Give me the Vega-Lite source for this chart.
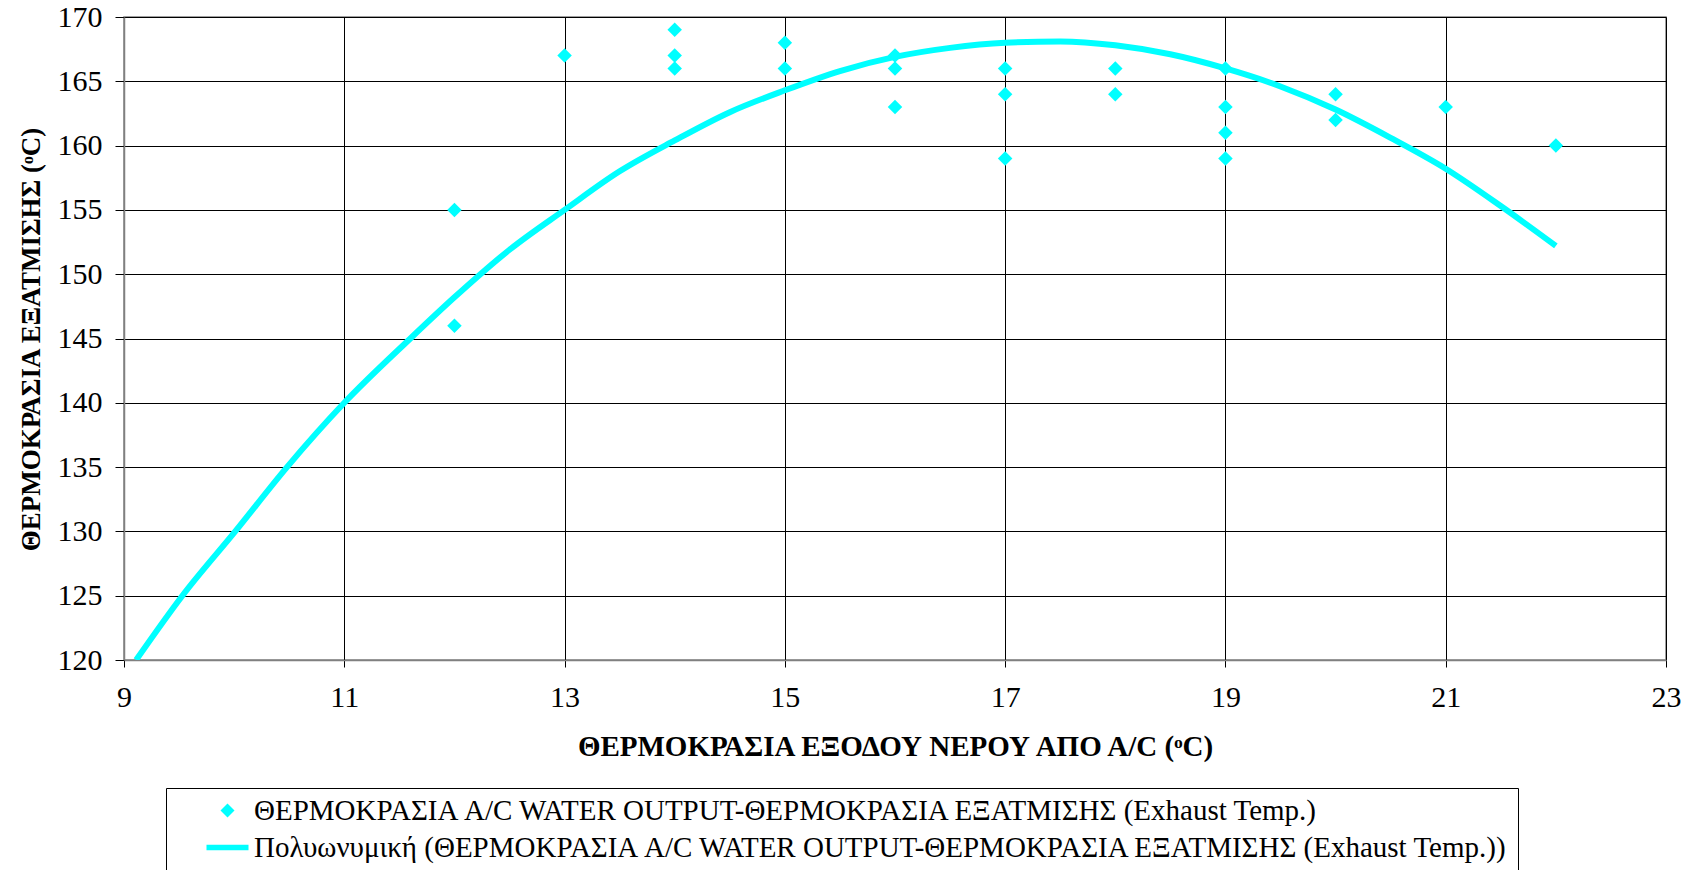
{
  "$schema": "https://vega.github.io/schema/vega-lite/v6.json",
  "autosize": {"type": "none"},
  "padding": {"left": 124, "top": 17, "right": 24, "bottom": 210},
  "width": 1542,
  "height": 643,
  "background": "white",
  "config": {
    "font": "Liberation Serif",
    "view": {"stroke": "#808080", "strokeWidth": 1.5},
    "axis": {
      "labelFont": "Liberation Serif",
      "labelFontSize": 30,
      "labelColor": "#000",
      "labelFlush": false,
      "titleFont": "Liberation Serif",
      "titleFontWeight": "bold",
      "titleColor": "#000",
      "grid": true,
      "gridColor": "#000",
      "gridOpacity": 1,
      "gridWidth": 1,
      "domainColor": "#808080",
      "domainWidth": 1.5,
      "tickColor": "#000"
    },
    "legend": {
      "labelFont": "Liberation Serif",
      "labelFontSize": 29,
      "labelColor": "#000",
      "labelLimit": 2000
    }
  },
  "datasets": {
    "points": [
      {"x": 12, "y": 155}, {"x": 12, "y": 146},
      {"x": 13, "y": 167},
      {"x": 14, "y": 169}, {"x": 14, "y": 167}, {"x": 14, "y": 166},
      {"x": 15, "y": 168}, {"x": 15, "y": 166},
      {"x": 16, "y": 167}, {"x": 16, "y": 166}, {"x": 16, "y": 163},
      {"x": 17, "y": 166}, {"x": 17, "y": 164}, {"x": 17, "y": 159},
      {"x": 18, "y": 166}, {"x": 18, "y": 164},
      {"x": 19, "y": 166}, {"x": 19, "y": 163}, {"x": 19, "y": 161}, {"x": 19, "y": 159},
      {"x": 20, "y": 164}, {"x": 20, "y": 162},
      {"x": 21, "y": 163},
      {"x": 22, "y": 160}
    ],
    "trend": [
      {"x": 9.11, "y": 120}, {"x": 9.53, "y": 125}, {"x": 10.01, "y": 130},
      {"x": 10.48, "y": 135}, {"x": 11.0, "y": 140}, {"x": 11.6, "y": 145},
      {"x": 12.0, "y": 148.2}, {"x": 12.5, "y": 151.9}, {"x": 13.0, "y": 155},
      {"x": 13.5, "y": 158}, {"x": 14.0, "y": 160.4}, {"x": 14.5, "y": 162.6},
      {"x": 15.0, "y": 164.3}, {"x": 15.5, "y": 165.8}, {"x": 16.0, "y": 166.9},
      {"x": 16.5, "y": 167.6}, {"x": 17.0, "y": 168.0}, {"x": 17.5, "y": 168.1},
      {"x": 18.0, "y": 167.8}, {"x": 18.5, "y": 167.1}, {"x": 19.0, "y": 166.0},
      {"x": 19.5, "y": 164.6}, {"x": 20.0, "y": 162.8}, {"x": 20.5, "y": 160.6},
      {"x": 21.0, "y": 158.2}, {"x": 21.5, "y": 155.3}, {"x": 22.0, "y": 152.2}
    ]
  },
  "encoding": {
    "x": {
      "field": "x", "type": "quantitative",
      "scale": {"domain": [9, 23], "nice": false, "zero": false},
      "axis": {
        "values": [9, 11, 13, 15, 17, 19, 21, 23],
        "tickSize": 7,
        "labelPadding": 15,
        "title": "ΘΕΡΜΟΚΡΑΣΙΑ ΕΞΟΔΟΥ ΝΕΡΟΥ ΑΠΟ Α/C (ᵒC)",
        "titleFontSize": 29,
        "titleX": 771,
        "titleY": 86,
        "titleBaseline": "middle",
        "titleAlign": "center"
      }
    },
    "y": {
      "field": "y", "type": "quantitative",
      "scale": {"domain": [120, 170], "nice": false, "zero": false},
      "axis": {
        "values": [120, 125, 130, 135, 140, 145, 150, 155, 160, 165, 170],
        "tickSize": 9,
        "labelPadding": 13,
        "title": "ΘΕΡΜΟΚΡΑΣΙΑ ΕΞΑΤΜΙΣΗΣ (ᵒC)",
        "titleFontSize": 27,
        "titleX": -93,
        "titleY": 322,
        "titleAngle": 270,
        "titleBaseline": "middle",
        "titleAlign": "center"
      }
    }
  },
  "layer": [
    {
      "data": {"name": "trend"},
      "mark": {"type": "line", "color": "#00FFFF", "strokeWidth": 6, "clip": true, "interpolate": "monotone"},
      "encoding": {}
    },
    {
      "data": {"name": "points"},
      "mark": {"type": "point", "filled": true, "opacity": 1, "size": 210},
      "encoding": {
        "color": {
          "datum": "ΘΕΡΜΟΚΡΑΣΙΑ A/C WATER OUTPUT-ΘΕΡΜΟΚΡΑΣΙΑ ΕΞΑΤΜΙΣΗΣ (Exhaust Temp.)",
          "type": "nominal",
          "scale": {
            "domain": [
              "ΘΕΡΜΟΚΡΑΣΙΑ A/C WATER OUTPUT-ΘΕΡΜΟΚΡΑΣΙΑ ΕΞΑΤΜΙΣΗΣ (Exhaust Temp.)",
              "Πολυωνυμική (ΘΕΡΜΟΚΡΑΣΙΑ A/C WATER OUTPUT-ΘΕΡΜΟΚΡΑΣΙΑ ΕΞΑΤΜΙΣΗΣ (Exhaust Temp.))"
            ],
            "range": ["#00FFFF", "#00FFFF"]
          },
          "legend": {
            "title": null,
            "orient": "none",
            "legendX": 42,
            "legendY": 771,
            "direction": "vertical",
            "strokeColor": "#000",
            "fillColor": "white",
            "padding": 8,
            "symbolOffset": 39,
            "symbolSize": 196,
            "symbolStrokeWidth": 0,
            "labelFont": "Liberation Serif",
            "labelFontSize": 29,
            "labelColor": "#000",
            "labelLimit": 2000,
            "labelOffset": 12,
            "rowPadding": 7
          }
        },
        "shape": {
          "datum": "ΘΕΡΜΟΚΡΑΣΙΑ A/C WATER OUTPUT-ΘΕΡΜΟΚΡΑΣΙΑ ΕΞΑΤΜΙΣΗΣ (Exhaust Temp.)",
          "type": "nominal",
          "scale": {
            "domain": [
              "ΘΕΡΜΟΚΡΑΣΙΑ A/C WATER OUTPUT-ΘΕΡΜΟΚΡΑΣΙΑ ΕΞΑΤΜΙΣΗΣ (Exhaust Temp.)",
              "Πολυωνυμική (ΘΕΡΜΟΚΡΑΣΙΑ A/C WATER OUTPUT-ΘΕΡΜΟΚΡΑΣΙΑ ΕΞΑΤΜΙΣΗΣ (Exhaust Temp.))"
            ],
            "range": ["diamond", "M-3,-0.38H3V0.38H-3Z"]
          },
          "legend": {
            "title": null,
            "orient": "none",
            "legendX": 42,
            "legendY": 771,
            "direction": "vertical",
            "strokeColor": "#000",
            "fillColor": "white",
            "padding": 8,
            "symbolOffset": 39,
            "symbolSize": 196,
            "symbolStrokeWidth": 0,
            "labelFont": "Liberation Serif",
            "labelFontSize": 29,
            "labelColor": "#000",
            "labelLimit": 2000,
            "labelOffset": 12,
            "rowPadding": 7
          }
        }
      }
    }
  ]
}
